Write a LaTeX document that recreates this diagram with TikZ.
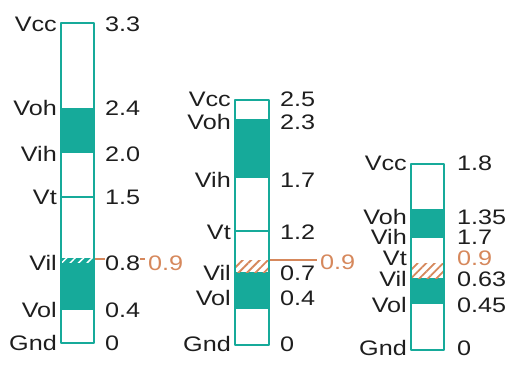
\documentclass[tikz,border=0pt]{standalone}
\usepackage{fontspec}
\setmainfont[FakeStretch=1.2]{Liberation Sans}
\usetikzlibrary{patterns.meta}
\definecolor{tealbar}{RGB}{22,170,154}
\definecolor{thrline}{RGB}{214,136,92}
\definecolor{txt}{RGB}{30,30,30}
\tikzset{
	bar/.style={draw=tealbar,line width=1.8pt},
	band/.style={fill=tealbar},
	hatchband/.style={pattern={Lines[angle=45,distance=6pt,line width=1.8pt]},pattern color=thrline},
	sig/.style={anchor=east,inner sep=0pt,text=txt},
	val/.style={anchor=west,inner sep=0pt,text=txt,fill=white},
	thr/.style={thrline,line width=1.2pt},
}
\begin{document}
\begin{tikzpicture}[x=1pt,y=-1pt,line join=round,font=\fontsize{21}{24}\selectfont]
	\useasboundingbox (0,0) rectangle (508,367);
	% threshold lines first, labels sit on top
	\coordinate (t1) at (94,259);
	\coordinate (t2) at (269,260);
	\node[val,text=thrline,fill=none] (n1) at (148,263) {0.9};
	\node[val,text=thrline,fill=none] (n2) at (320,262) {0.9};
	\draw[thr] (t1) -- ([xshift=-3pt]n1.west |- t1);
	\draw[thr] (t2) -- ([xshift=-3pt]n2.west |- t2);
	% 3.3 V
	\fill[white] (61,23) rectangle (94,343);
	\fill[band] (61,108) rectangle (94,153);
	\fill[band] (61,258) rectangle (94,310);
	\fill[pattern={Lines[angle=45,distance=6pt,line width=1.5pt]},pattern color=white] (61,258) rectangle (94,262);
	\draw[tealbar,line width=1.5pt] (61,197) -- (94,197);
	\draw[bar] (61,23) rectangle (94,343);
	\foreach \lab/\val/\y in {Vcc/3.3/24,Voh/2.4/108,Vih/2.0/154,Vt/1.5/197,Vil/0.8/263,Vol/0.4/310,Gnd/0/343}{
		\node[sig] (a-\lab) at (57,\y) {\lab};
		\node[val] (av-\lab) at (105,\y) {\val};
	}
	% 2.5 V
	\fill[white] (235,100) rectangle (269,345);
	\fill[band] (235,119) rectangle (269,178);
	\fill[band] (235,272) rectangle (269,309);
	\fill[white] (235,260) rectangle (269,272);
	\fill[hatchband] (235,260) rectangle (269,272);
	\draw[tealbar,line width=1.5pt] (235,231) -- (269,231);
	\draw[bar] (235,100) rectangle (269,345);
	\foreach \lab/\val/\y in {Vcc/2.5/99,Voh/2.3/122,Vih/1.7/180,Vt/1.2/232,Vil/0.7/273,Vol/0.4/298,Gnd/0/344}{
		\node[sig] (b-\lab) at (231,\y) {\lab};
		\node[val] (bv-\lab) at (280,\y) {\val};
	}
	% 1.8 V
	\fill[white] (411,164) rectangle (444,350);
	\fill[band] (411,209) rectangle (444,238);
	\fill[band] (411,278) rectangle (444,304);
	\fill[hatchband] (411,263) rectangle (444,278);
	\draw[bar] (411,164) rectangle (444,350);
	\foreach \lab/\val/\y in {Vcc/1.8/163,Voh/1.35/217,Vih/1.7/237,Vil/0.63/279,Vol/0.45/305,Gnd/0/348}{
		\node[sig] (c-\lab) at (407,\y) {\lab};
		\node[val] (cv-\lab) at (457,\y) {\val};
	}
	\node[sig] (c-Vt) at (407,258) {Vt};
	\node[val,text=thrline,fill=none] (cv-Vt) at (457,258) {0.9};
\end{tikzpicture}
\end{document}
